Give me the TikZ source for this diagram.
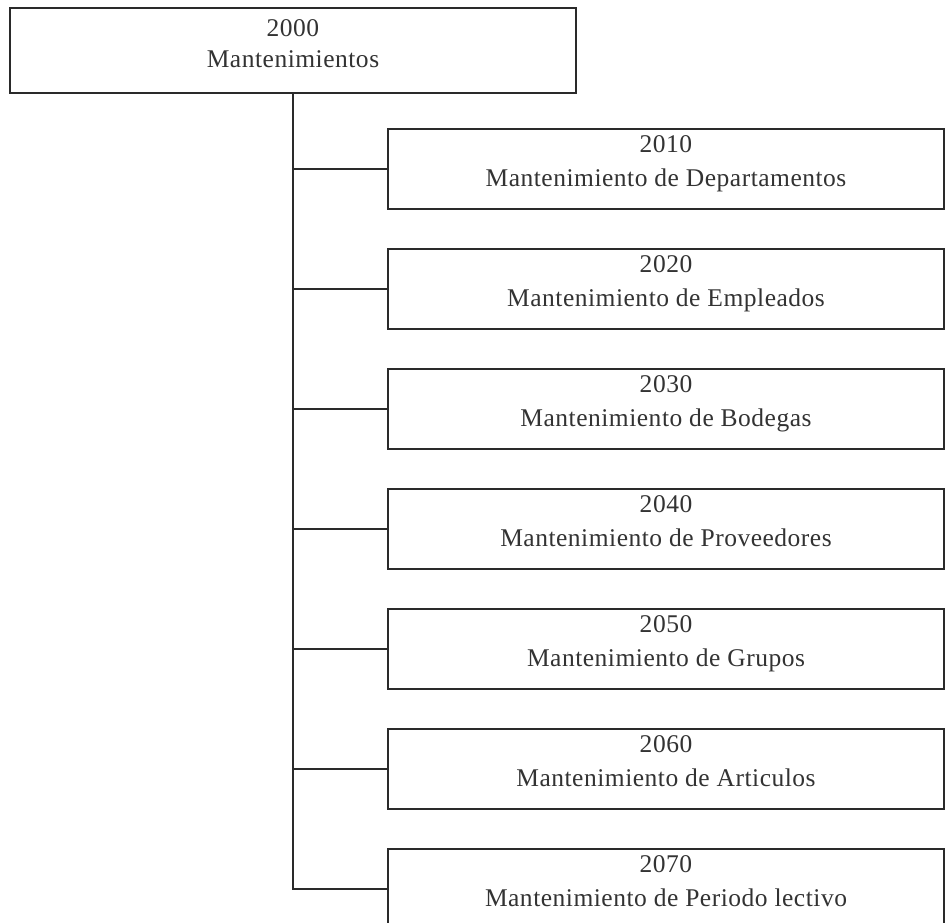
\documentclass[tikz,border=0pt]{standalone}
\usepackage{fontspec}
\setmainfont{Liberation Serif}[LetterSpace=2]
\definecolor{ink}{HTML}{2A2A2A}
\definecolor{txt}{HTML}{333333}
\begin{document}
\begin{tikzpicture}[x=1pt,y=-1pt,
  boxstyle/.style={draw=ink, line width=1.3pt, rectangle, inner sep=0pt, align=center,
    text=txt, font=\fontsize{25.5}{34}\selectfont},
  child/.style={boxstyle, minimum width=556pt, minimum height=80pt},
  link/.style={draw=ink, line width=1.3pt}]
\useasboundingbox (0,0) rectangle (945,922);
\clip (0,0) rectangle (945,922);
\fill[white] (0,0) rectangle (945,922);
\node[boxstyle, minimum width=566pt, minimum height=85pt, font=\fontsize{25.5}{31}\selectfont] (top) at (293,50.5)
  {2000\\Mantenimientos\rule[-13pt]{0pt}{0pt}};
\node[child] (b1) at (666,169) {2010\\Mantenimiento de Departamentos\rule[-15pt]{0pt}{0pt}};
\node[child] (b2) at (666,289) {2020\\Mantenimiento de Empleados\rule[-15pt]{0pt}{0pt}};
\node[child] (b3) at (666,409) {2030\\Mantenimiento de Bodegas\rule[-15pt]{0pt}{0pt}};
\node[child] (b4) at (666,529) {2040\\Mantenimiento de Proveedores\rule[-15pt]{0pt}{0pt}};
\node[child] (b5) at (666,649) {2050\\Mantenimiento de Grupos\rule[-15pt]{0pt}{0pt}};
\node[child] (b6) at (666,769) {2060\\Mantenimiento de Articulos\rule[-15pt]{0pt}{0pt}};
\node[child] (b7) at (666,889) {2070\\Mantenimiento de Periodo lectivo\rule[-15pt]{0pt}{0pt}};
\draw[link] (top.south) -- (top.south |- b7.west) -- (b7.west);
\foreach \b in {b1,b2,b3,b4,b5,b6}{
  \draw[link] (top.south |- \b.west) -- (\b.west);
}
\end{tikzpicture}
\end{document}
